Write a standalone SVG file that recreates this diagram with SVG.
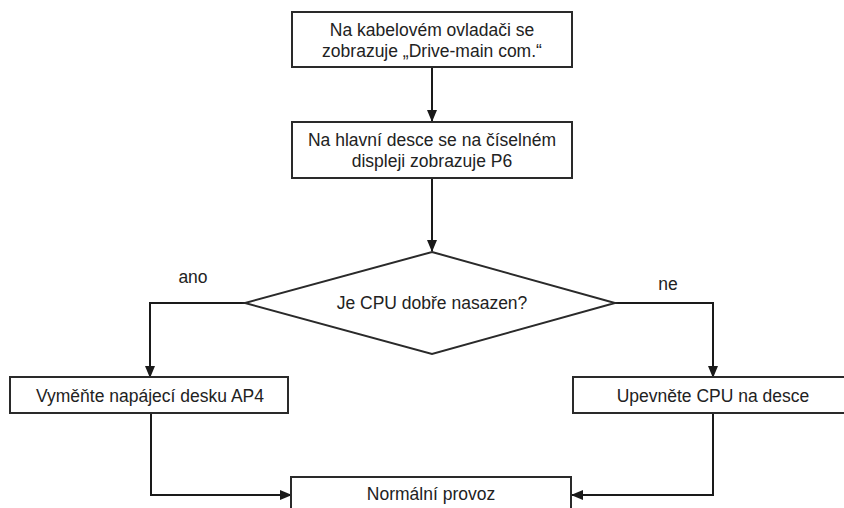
<svg xmlns="http://www.w3.org/2000/svg" width="844" height="508" viewBox="0 0 844 508">
<defs>
<marker id="ah" markerWidth="12" markerHeight="10" refX="11" refY="5" orient="auto" markerUnits="userSpaceOnUse">
<path d="M0,0 L12,5 L0,10 Z" fill="#1a1a1a"/>
</marker>
<style>
.box{fill:#fff;stroke:#2a2a2a;stroke-width:2}
.t{font-family:"Liberation Sans",Arial,sans-serif;font-size:17.5px;fill:#222;text-anchor:middle}
.c{fill:none;stroke:#1a1a1a;stroke-width:2;marker-end:url(#ah)}
</style>
</defs>
<rect width="844" height="508" fill="#fff"/>
<g id="connectors">
<path class="c" d="M432,67 L432,121"/>
<path class="c" d="M432,178 L432,251"/>
<path class="c" d="M245,303 L150,303 L150,377"/>
<path class="c" d="M615,303 L713,303 L713,377"/>
<path class="c" d="M151,413 L151,495 L291,495"/>
<path class="c" d="M713,413 L713,495 L572,495"/>
</g>
<g id="n1">
<rect class="box" x="292" y="12" width="280" height="55"/>
<text class="t" x="432" y="36">Na kabelovém ovladači se</text>
<text class="t" x="432" y="57">zobrazuje „Drive-main com.“</text>
</g>
<g id="n2">
<rect class="box" x="292" y="122" width="280" height="56"/>
<text class="t" x="432" y="146">Na hlavní desce se na číselném</text>
<text class="t" x="432" y="167">displeji zobrazuje P6</text>
</g>
<g id="n3">
<polygon class="box" points="432,252 615,303 432,354 245,303"/>
<text class="t" x="432" y="309">Je CPU dobře nasazen?</text>
</g>
<g id="lbl-ano"><text class="t" x="193" y="283">ano</text></g>
<g id="lbl-ne"><text class="t" x="668" y="290">ne</text></g>
<g id="n4">
<rect class="box" x="10" y="377" width="278" height="36"/>
<text class="t" x="150" y="402">Vyměňte napájecí desku AP4</text>
</g>
<g id="n5">
<rect class="box" x="573" y="377" width="280" height="36"/>
<text class="t" x="713" y="402">Upevněte CPU na desce</text>
</g>
<g id="n6">
<rect class="box" x="291" y="477" width="280" height="40"/>
<text class="t" x="431" y="500">Normální provoz</text>
</g>
</svg>
